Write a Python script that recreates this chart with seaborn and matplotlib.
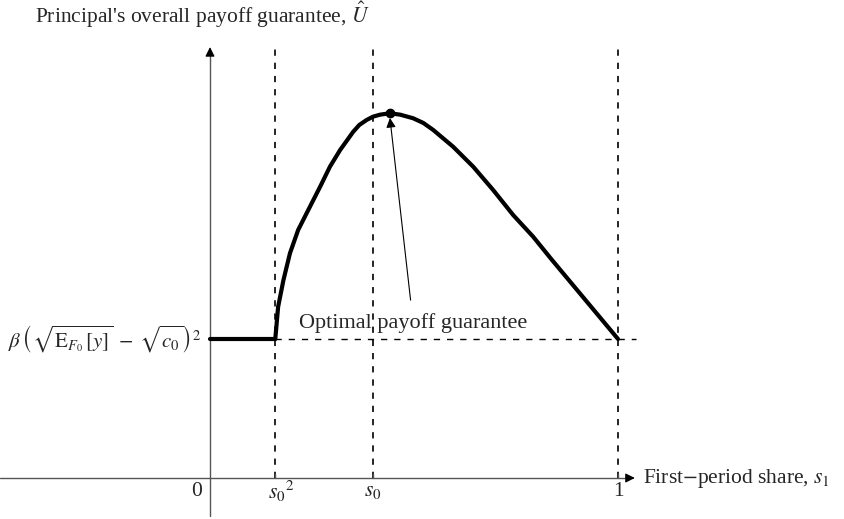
import numpy as np
import pandas as pd
import matplotlib
matplotlib.use('Agg')
import matplotlib.pyplot as plt
import seaborn as sns

# =============================================================================
# DATA (y in units of the flat payoff level)
# =============================================================================

s0 = 0.4
s0_sq = 0.16

flat_x = [0.0, 0.16]
flat_y = [1.0, 1.0]

curve_x = [0.16, 0.167, 0.180, 0.196, 0.216, 0.245, 0.270, 0.294, 0.319, 0.351,
           0.366, 0.384, 0.400, 0.417, 0.441, 0.466, 0.498, 0.523, 0.547, 0.596,
           0.645, 0.694, 0.743, 0.792, 0.837, 1.0]
curve_y = [1.0, 1.232, 1.424, 1.617, 1.784, 1.952, 2.096, 2.240, 2.360, 2.491,
           2.540, 2.576, 2.600, 2.614, 2.624, 2.614, 2.588, 2.554, 2.504, 2.383,
           2.240, 2.072, 1.892, 1.736, 1.573, 1.0]

peak_x, peak_y = 0.441, 2.624

tick_pos = [0.0, 0.175, 0.4, 1.0]
tick_labels = ['0', r'$s_0{}^2$', r'$s_0$', '1']
vline_pos = [s0_sq, s0, 1.0]

# =============================================================================
# STYLE
# =============================================================================

sns.set_style('white')
plt.rcParams['font.family'] = ['Liberation Serif', 'DejaVu Serif']
plt.rcParams['mathtext.fontset'] = 'stix'
plt.rcParams['lines.scale_dashes'] = False

FS = 15.5

fig = plt.figure(figsize=(8.44, 5.19), dpi=100)
ax = fig.add_axes([0, 0, 1, 1])
ax.axis('off')
ax.set_xlim(-210 / 408, (844 - 210) / 408)
ax.set_ylim((478 - 519) / 139, 478 / 139)

axis_col = '#555555'
dash = (4.5, 5)

# axes with arrowheads
ax.plot([-0.515, 1.03], [0, 0], color=axis_col, lw=1.0)
ax.plot([0, 0], [-0.27, 3.08], color=axis_col, lw=1.0)
ax.annotate('', xy=(1.048, 0), xytext=(1.02, 0),
            arrowprops=dict(arrowstyle='-|>', color='black', lw=0.8, mutation_scale=14))
ax.annotate('', xy=(0, 3.12), xytext=(0, 3.05),
            arrowprops=dict(arrowstyle='-|>', color='black', lw=0.8, mutation_scale=14))

# dashed guides
for xv in vline_pos:
    ax.plot([xv, xv], [0, 3.115], color='black', lw=1.2, dashes=dash)
    if xv > 0:
        ax.plot([xv, xv], [0, 0.03], color=axis_col, lw=1.0)
ax.plot([s0_sq, 1.044], [1.0, 1.0], color='black', lw=1.0, dashes=dash)

# payoff curve
df_flat = pd.DataFrame({'s1': flat_x, 'U': flat_y})
df_curve = pd.DataFrame({'s1': curve_x, 'U': curve_y})
sns.lineplot(data=df_flat, x='s1', y='U', ax=ax, color='black', lw=3.0, sort=False)
sns.lineplot(data=df_curve, x='s1', y='U', ax=ax, color='black', lw=3.0, sort=False,
             solid_joinstyle='round', solid_capstyle='round')
ax.plot([peak_x], [peak_y], 'o', color='black', ms=6)

ax.annotate('Optimal payoff guarantee', xy=(peak_x, 2.59), xytext=(0.498, 1.115),
            ha='center', va='center', fontsize=16,
            arrowprops=dict(arrowstyle='-|>', color='black', lw=0.8,
                            mutation_scale=14, shrinkA=7, shrinkB=0))

# labels
for xp, lab in zip(tick_pos, tick_labels):
    xx = -0.034 if xp == 0 else xp
    ax.text(xx, -0.10, lab, ha='center', va='center', fontsize=FS)

ax.text(1.061, 0.0, r'First$-$period share, $s_1$', ha='left', va='center', fontsize=FS)
ax.text(-0.429, 3.33, r"Principal's overall payoff guarantee, $\hat{U}$",
        ha='left', va='center', fontsize=FS)
ax.text(-0.022, 1.0,
        r'$\beta\,\left(\sqrt{\mathrm{E}_{F_0}\,[y]}\;-\;\sqrt{c_0}\right)^2$',
        ha='right', va='center', fontsize=15)

fig.savefig('out.png', dpi=100)
plt.close(fig)
